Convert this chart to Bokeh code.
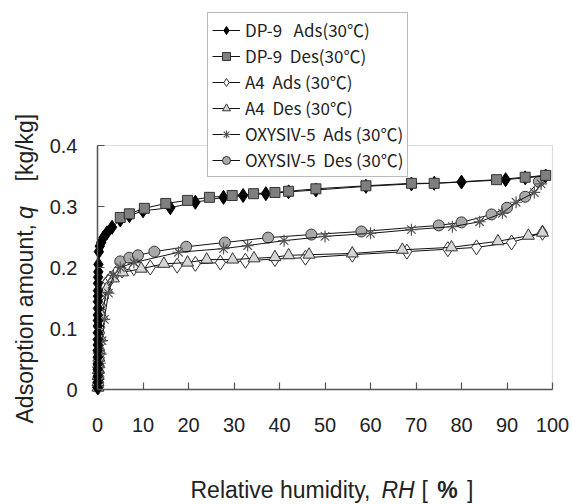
import math
from bokeh.plotting import figure
from bokeh.models import Legend, LegendItem, FixedTicker, Label, Range1d, BoxAnnotation
from bokeh.embed import file_html
from bokeh.resources import INLINE

# ---------------- data ----------------
dp9_ads_rh = [0.02, 0.03, 0.03, 0.04, 0.04, 0.05, 0.05, 0.06, 0.06, 0.07, 0.07, 0.08, 0.08, 0.09, 0.09,
              0.10, 0.11, 0.12, 0.14, 0.17, 0.2, 0.3, 0.5, 0.8, 1.3, 2.1, 3.2, 5, 7, 10, 16, 21.5, 27.7,
              32, 37, 42, 48, 59, 69, 74, 80, 89.7, 94, 98.5]
dp9_ads_q = [0.003, 0.012, 0.022, 0.033, 0.042, 0.053, 0.064, 0.073, 0.082, 0.093, 0.104, 0.113, 0.122,
             0.133, 0.144, 0.153, 0.162, 0.174, 0.184, 0.193, 0.205, 0.226, 0.235, 0.241, 0.249, 0.257,
             0.266, 0.278, 0.285, 0.293, 0.298, 0.307, 0.315, 0.318, 0.321, 0.324, 0.327, 0.333, 0.337,
             0.338, 0.340, 0.344, 0.347, 0.350]

dp9_des_rh = [5, 7, 10.3, 15, 19.8, 24.6, 29.6, 34.3, 39, 42, 48, 59, 69, 74, 87.7, 94, 98.5]
dp9_des_q = [0.282, 0.288, 0.297, 0.305, 0.310, 0.315, 0.318, 0.321, 0.323, 0.325, 0.329, 0.334, 0.338,
             0.338, 0.344, 0.348, 0.351]

a4_ads_rh = [0.2, 0.25, 0.3, 0.3, 0.35, 0.35, 0.4, 0.4, 0.45, 0.45, 0.5, 0.5, 0.55, 0.6, 0.65, 0.7, 0.8,
             1.0, 1.3, 1.7, 2.3, 2.9, 4.0, 5.4, 8.0, 11.6, 17.5, 21.5, 27, 32.5, 39, 45.7, 56, 68, 77,
             83.3, 91, 97.8]
a4_ads_q = [0.004, 0.012, 0.021, 0.030, 0.039, 0.048, 0.057, 0.066, 0.075, 0.084, 0.093, 0.102, 0.111,
            0.120, 0.129, 0.138, 0.148, 0.158, 0.165, 0.171, 0.177, 0.182, 0.190, 0.195, 0.199, 0.200,
            0.203, 0.206, 0.208, 0.211, 0.214, 0.216, 0.221, 0.226, 0.230, 0.233, 0.241, 0.257]

a4_des_rh = [0.1, 0.12, 0.15, 0.2, 0.25, 0.3, 0.4, 0.6, 1.0, 2.0, 3.5, 5.5, 9.6, 14.6, 19.8, 24, 29.7,
             34.4, 39, 42, 46.5, 56, 67, 77.8, 88, 94.7, 97.8]
a4_des_q = [0.003, 0.012, 0.022, 0.032, 0.042, 0.052, 0.065, 0.085, 0.120, 0.165, 0.182, 0.192, 0.198,
            0.206, 0.208, 0.213, 0.213, 0.215, 0.217, 0.220, 0.221, 0.223, 0.229, 0.233, 0.243, 0.252,
            0.257]

oxy_ads_rh = [0.1, 0.15, 0.2, 0.3, 0.4, 0.5, 0.7, 1.0, 1.5, 2.4, 3.5, 5, 8, 17.8, 27.7, 33, 41, 50, 60,
              69, 78, 84, 89, 92, 96, 97.5]
oxy_ads_q = [0.004, 0.011, 0.019, 0.028, 0.036, 0.043, 0.058, 0.080, 0.115, 0.158, 0.187, 0.200, 0.208,
             0.225, 0.231, 0.236, 0.244, 0.251, 0.256, 0.262, 0.267, 0.275, 0.289, 0.307, 0.323, 0.337]

oxy_des_rh = [5, 7, 8.9, 12.5, 19.5, 28, 37.5, 47, 58, 75, 80, 86.6, 90, 94, 97]
oxy_des_q = [0.210, 0.216, 0.220, 0.226, 0.234, 0.241, 0.249, 0.254, 0.259, 0.269, 0.274, 0.287, 0.298,
             0.316, 0.341]

series_labels = ["DP-9   Ads(30℃)", "DP-9  Des(30℃)", "A4  Ads (30℃)", "A4  Des (30℃)",
                 "OXYSIV-5  Ads (30℃)", "OXYSIV-5  Des (30℃)"]

x_ticks = [0, 10, 20, 30, 40, 50, 60, 70, 80, 90, 100]
y_ticks = [0, 0.1, 0.2, 0.3, 0.4]
y_tick_labels = ["0", "0.1", "0.2", "0.3", "0.4"]

# ---------------- layout constants (pixels) ----------------
W, H = 572, 504
PX_LEFT, PX_RIGHT, PX_TOP, PX_BOTTOM = 97, 552, 145, 389
XMIN, XMAX, YMIN, YMAX = 0, 100, 0, 0.4
sx = (PX_RIGHT - PX_LEFT) / (XMAX - XMIN)
sy = (PX_BOTTOM - PX_TOP) / (YMAX - YMIN)


def dx(px):
    return XMIN + (px - PX_LEFT) / sx


def dy(py):
    return YMIN + (PX_BOTTOM - py) / sy


# ---------------- figure (frame spans whole canvas; axes fixed at data origin) ----------------
p = figure(width=W, height=H, output_backend="svg", toolbar_location=None,
           x_range=Range1d(dx(0), dx(W)), y_range=Range1d(dy(H), dy(0)),
           min_border=0, min_border_left=0, min_border_right=0, min_border_top=0, min_border_bottom=0)
p.xgrid.visible = False
p.ygrid.visible = False
p.outline_line_color = None
p.background_fill_color = "white"
p.border_fill_color = "white"

for ax in (p.xaxis[0], p.yaxis[0]):
    ax.axis_line_color = "#555555"
    ax.axis_line_width = 1.5
    ax.major_tick_line_color = "#555555"
    ax.major_tick_line_width = 1.2
    ax.major_tick_in = 7
    ax.major_tick_out = 0
    ax.minor_tick_line_color = None
    ax.major_label_text_font = "Liberation Sans"
    ax.major_label_text_font_size = "20px"
    ax.major_label_text_color = "#222222"

p.xaxis[0].fixed_location = YMIN
p.xaxis[0].bounds = (XMIN, XMAX)
p.xaxis[0].ticker = FixedTicker(ticks=x_ticks)
p.xaxis[0].major_label_standoff = 28
p.yaxis[0].fixed_location = XMIN
p.yaxis[0].bounds = (YMIN, YMAX)
p.yaxis[0].ticker = FixedTicker(ticks=y_ticks)
p.yaxis[0].major_label_overrides = {t: s for t, s in zip(y_ticks, y_tick_labels)}
p.yaxis[0].major_label_standoff = 20

# plot-area box (top / right border)
p.add_layout(BoxAnnotation(left=XMIN, right=XMAX, bottom=YMIN, top=YMAX, fill_alpha=0,
                           line_color="#8a8a8a", line_width=1.2, level="underlay"))

LINE = "#111111"
EDGE = "#333333"

r_a4a_l = p.line(a4_ads_rh, a4_ads_q, line_color=LINE, line_width=1)
r_a4a_s = p.scatter(a4_ads_rh, a4_ads_q, marker="diamond", size=15,
                    fill_color="white", line_color=EDGE, line_width=1)
r_a4d_l = p.line(a4_des_rh, a4_des_q, line_color=LINE, line_width=1)
r_a4d_s = p.scatter(a4_des_rh, a4_des_q, marker="triangle", size=12, fill_color="#d6d6d6",
                    line_color=EDGE, line_width=1)
r_oxd_l = p.line(oxy_des_rh, oxy_des_q, line_color=LINE, line_width=1)
r_oxd_s = p.scatter(oxy_des_rh, oxy_des_q, marker="circle", size=11, fill_color="#a9a9a9",
                    line_color=EDGE, line_width=1)
r_oxa_l = p.line(oxy_ads_rh, oxy_ads_q, line_color=LINE, line_width=1)
r_oxa_s = p.scatter(oxy_ads_rh, oxy_ads_q, marker="asterisk", size=12, line_color="#555555",
                    line_width=1.2)
r_dpa_l = p.line(dp9_ads_rh, dp9_ads_q, line_color=LINE, line_width=1)
r_dpa_s = p.scatter(dp9_ads_rh, dp9_ads_q, marker="diamond", size=14,
                    fill_color="black", line_color="black", line_width=1)
r_dpd_l = p.line(dp9_des_rh, dp9_des_q, line_color=LINE, line_width=1)
r_dpd_s = p.scatter(dp9_des_rh, dp9_des_q, marker="square", size=10, fill_color="#7f7f7f",
                    line_color=EDGE, line_width=1)

items = [
    LegendItem(label=series_labels[0], renderers=[r_dpa_l, r_dpa_s]),
    LegendItem(label=series_labels[1], renderers=[r_dpd_l, r_dpd_s]),
    LegendItem(label=series_labels[2], renderers=[r_a4a_l, r_a4a_s]),
    LegendItem(label=series_labels[3], renderers=[r_a4d_l, r_a4d_s]),
    LegendItem(label=series_labels[4], renderers=[r_oxa_l, r_oxa_s]),
    LegendItem(label=series_labels[5], renderers=[r_oxd_l, r_oxd_s]),
]
legend = Legend(items=items, location=(207, H - 177), orientation="vertical",
                label_text_font="Noto Sans CJK JP", label_text_font_size="17px",
                label_text_color="#222222",
                glyph_width=28, glyph_height=20, label_height=20, spacing=1, padding=4,
                label_standoff=5, margin=0,
                border_line_color="#777777", border_line_width=1.5,
                background_fill_color="white", background_fill_alpha=1.0)
p.add_layout(legend, "center")

# axis titles (mixed upright / italic pieces)
TF = "Liberation Sans"
TS = "23px"
TC = "#222222"
XT_Y = dy(489)
p.add_layout(Label(x=dx(190), y=XT_Y, text="Relative humidity,", text_align="left",
                   text_baseline="middle", text_font=TF, text_font_size=TS, text_color=TC))
p.add_layout(Label(x=dx(381), y=XT_Y, text="RH", text_align="left", text_font_style="italic",
                   text_baseline="middle", text_font=TF, text_font_size=TS, text_color=TC))
p.add_layout(Label(x=dx(421), y=XT_Y, text="[", text_align="left",
                   text_baseline="middle", text_font=TF, text_font_size=TS, text_color=TC))
p.add_layout(Label(x=dx(447), y=XT_Y, text="%", text_align="center", text_font_style="bold",
                   text_baseline="middle", text_font=TF, text_font_size=TS, text_color=TC))
p.add_layout(Label(x=dx(473), y=XT_Y, text="]", text_align="right",
                   text_baseline="middle", text_font=TF, text_font_size=TS, text_color=TC))

YT_X = dx(24)
p.add_layout(Label(x=YT_X, y=dy(423), text="Adsorption amount,", text_align="left", angle=math.pi / 2,
                   text_baseline="middle", text_font=TF, text_font_size=TS, text_color=TC))
p.add_layout(Label(x=YT_X, y=dy(212), text="q", text_align="center", angle=math.pi / 2,
                   text_font_style="italic",
                   text_baseline="middle", text_font=TF, text_font_size=TS, text_color=TC))
p.add_layout(Label(x=YT_X, y=dy(181), text="[kg/kg]", text_align="left", angle=math.pi / 2,
                   text_baseline="middle", text_font=TF, text_font_size=TS, text_color=TC))

open("out.html", "w").write(file_html(p, INLINE))
